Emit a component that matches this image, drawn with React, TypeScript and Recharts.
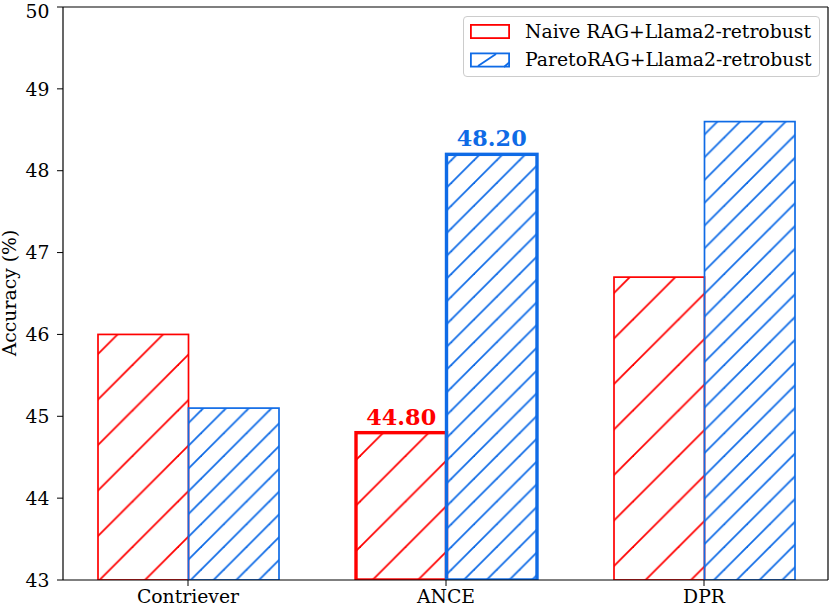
import React from 'react';
import { BarChart, Bar, XAxis, YAxis, LabelList } from 'recharts';

const categories = ['Contriever', 'ANCE', 'DPR'];
const naiveValues = [46.0, 44.8, 46.7];
const paretoValues = [45.1, 48.2, 48.6];
const yTicks = [43, 44, 45, 46, 47, 48, 49, 50];
const seriesNames = ['Naive RAG+Llama2-retrobust', 'ParetoRAG+Llama2-retrobust'];
const highlighted = 'ANCE';

const RED = '#ff0000';
const BLUE = '#0f6be6';
const FONT = '"DejaVu Serif", serif';
const FS = 18.8;
const HW = 1.8;

const data = categories.map((c, i) => ({ name: c, naive: naiveValues[i], pareto: paretoValues[i] }));

const makeShape = (color: string, fillId: string) => (props: any) => {
  const { x, y, width, height, payload } = props;
  const sw = payload && payload.name === highlighted ? 3.4 : 1.7;
  return (
    <rect x={x} y={y} width={width} height={height} fill={`url(#${fillId})`} stroke={color} strokeWidth={sw} />
  );
};

const makeLabel = (color: string) => (props: any) => {
  const { x, y, width, value, index } = props;
  if (categories[index] !== highlighted) return null;
  return (
    <text x={x + width / 2} y={y - 8} textAnchor="middle" fill={color} fontFamily={FONT} fontWeight="bold" fontSize={22.3}>
      {Number(value).toFixed(2)}
    </text>
  );
};

const YLabel = () => (
  <text
    x={9}
    y={293}
    transform="rotate(-90, 9, 293)"
    textAnchor="middle"
    dominantBaseline="central"
    fill="#000"
    fontFamily={FONT}
    fontSize={FS}
  >
    Accuracy (%)
  </text>
);

const HatchDefs = () => (
  <defs>
    <pattern id="hatchRed" patternUnits="userSpaceOnUse" width={45.5} height={45.5} x={42.5} y={0}>
      <line x1={0} y1={45.5} x2={45.5} y2={0} stroke={RED} strokeWidth={HW} />
      <line x1={-5} y1={5} x2={5} y2={-5} stroke={RED} strokeWidth={HW} />
      <line x1={40.5} y1={50.5} x2={50.5} y2={40.5} stroke={RED} strokeWidth={HW} />
    </pattern>
    <pattern id="hatchBlue" patternUnits="userSpaceOnUse" width={22.75} height={22.75} x={20} y={0}>
      <line x1={0} y1={22.75} x2={22.75} y2={0} stroke={BLUE} strokeWidth={HW} />
      <line x1={-5} y1={5} x2={5} y2={-5} stroke={BLUE} strokeWidth={HW} />
      <line x1={17.75} y1={27.75} x2={27.75} y2={17.75} stroke={BLUE} strokeWidth={HW} />
    </pattern>
  </defs>
);

const LegendBox = () => (
  <div
    style={{
      position: 'absolute',
      left: 463,
      top: 16,
      width: 357,
      height: 61,
      border: '1px solid #cccccc',
      borderRadius: 4,
      background: 'rgba(255,255,255,0.8)',
      boxSizing: 'border-box',
      fontFamily: FONT,
      fontSize: FS,
      color: '#000',
    }}
  >
    <svg width={40} height={15} style={{ position: 'absolute', left: 6, top: 7 }}>
      <rect x={0.9} y={0.9} width={38.2} height={13.2} fill="none" stroke={RED} strokeWidth={1.8} />
    </svg>
    <div style={{ position: 'absolute', left: 61, top: 3, lineHeight: '24px', whiteSpace: 'nowrap' }}>{seriesNames[0]}</div>
    <svg width={40} height={16} style={{ position: 'absolute', left: 6, top: 35 }}>
      <defs>
        <clipPath id="lgClip">
          <rect x={0} y={0} width={40} height={16} />
        </clipPath>
      </defs>
      <g clipPath="url(#lgClip)">
        <line x1={8} y1={14} x2={26} y2={2} stroke={BLUE} strokeWidth={1.8} />
        <line x1={34} y1={15} x2={42} y2={8} stroke={BLUE} strokeWidth={1.8} />
      </g>
      <rect x={0.9} y={1.4} width={38.2} height={13.2} fill="none" stroke={BLUE} strokeWidth={1.8} />
    </svg>
    <div style={{ position: 'absolute', left: 61, top: 31, lineHeight: '24px', whiteSpace: 'nowrap' }}>{seriesNames[1]}</div>
  </div>
);

export default function App() {
  return (
    <div style={{ position: 'absolute', left: 0, top: 0, width: 830, height: 612, background: '#fff' }}>
      <BarChart
        width={830}
        height={612}
        data={data}
        margin={{ top: 6, right: 1, left: 0, bottom: 0 }}
        barGap={0}
        barSize={90.5}
      >
        <HatchDefs />
        <XAxis
          dataKey="name"
          xAxisId="bottom"
          height={32}
          padding={{ left: -4, right: -5 }}
          tickLine={{ stroke: '#000', strokeWidth: 1 }}
          axisLine={{ stroke: '#000', strokeWidth: 1.2 }}
          tickSize={6}
          tickMargin={4}
          tick={{ fill: '#000', fontFamily: FONT, fontSize: FS }}
        />
        <XAxis
          dataKey="name"
          xAxisId="top"
          orientation="top"
          height={1}
          tick={false}
          tickLine={false}
          axisLine={{ stroke: '#000', strokeWidth: 1.2 }}
        />
        <YAxis
          yAxisId="left"
          width={63}
          domain={[43, 50]}
          ticks={yTicks}
          allowDataOverflow
          tickLine={{ stroke: '#000', strokeWidth: 1 }}
          axisLine={{ stroke: '#000', strokeWidth: 1.2 }}
          tickSize={6}
          tickMargin={7.5}
          tick={{ fill: '#000', fontFamily: FONT, fontSize: FS }}
          label={<YLabel />}
        />
        <YAxis
          yAxisId="right"
          orientation="right"
          width={1}
          domain={[43, 50]}
          tick={false}
          tickLine={false}
          axisLine={{ stroke: '#000', strokeWidth: 1.2 }}
        />
        <Bar
          dataKey="naive"
          name={seriesNames[0]}
          xAxisId="bottom"
          yAxisId="left"
          isAnimationActive={false}
          shape={makeShape(RED, 'hatchRed')}
        >
          <LabelList dataKey="naive" content={makeLabel(RED)} />
        </Bar>
        <Bar
          dataKey="pareto"
          name={seriesNames[1]}
          xAxisId="bottom"
          yAxisId="left"
          isAnimationActive={false}
          shape={makeShape(BLUE, 'hatchBlue')}
        >
          <LabelList dataKey="pareto" content={makeLabel(BLUE)} />
        </Bar>
      </BarChart>
      <LegendBox />
    </div>
  );
}
